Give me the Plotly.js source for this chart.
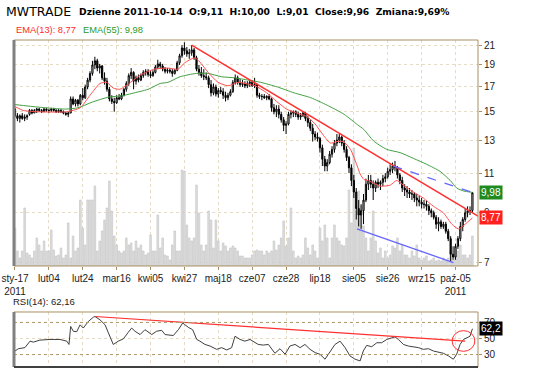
<!DOCTYPE html>
<html><head><meta charset="utf-8">
<script src="https://cdn.plot.ly/plotly-3.0.1.min.js"></script>
<style>html,body{margin:0;padding:0;background:#fff}#chart{width:560px;height:376px}</style>
</head><body><div id="chart"></div>
<script>
// ---- data ----
const tickIdx = [0,14,28,42,56,70,84,98,112,126,140,154,168,182];
const tickText = ['sty-17<br>2011','lut04','lut24','mar16','kwi05','kwi27','maj18','cze07','cze28','lip18','sie05','sie26','wrz15','paź-05<br>2011'];

const openP = [15.2,14.7,14.5,14.7,14.5,14.6,14.8,15.1,14.9,15.1,
15.2,15.1,15.0,15.2,15.1,15.1,15.2,15.1,15.0,15.1,
15.0,14.9,14.8,14.9,16.0,15.6,15.9,15.6,16.3,16.1,
17.0,17.6,18.2,19.0,19.4,18.7,18.9,17.8,17.5,16.8,
16.0,15.8,15.7,16.1,16.0,16.3,16.8,17.3,18.0,18.3,
17.5,17.8,17.6,18.0,18.3,18.4,18.1,18.0,18.3,18.8,
19.1,18.9,18.6,18.4,18.5,18.4,18.2,18.5,19.2,19.9,
20.7,20.4,20.1,20.2,20.5,19.7,18.6,18.3,18.0,17.9,
17.8,17.2,16.5,17.0,16.4,16.7,16.6,16.3,16.1,16.3,
16.6,17.4,17.8,17.4,17.2,17.3,17.1,17.3,17.4,17.1,
17.2,16.3,16.2,16.2,16.1,16.2,16.0,15.3,15.0,15.2,
14.8,14.4,14.0,14.1,14.8,14.9,15.0,14.8,14.6,14.7,
14.9,14.5,14.2,13.8,13.4,13.2,13.1,12.5,11.8,11.4,
11.6,12.1,12.4,12.8,13.0,13.2,12.8,12.4,11.9,11.3,
10.6,10.0,9.2,8.9,9.1,9.6,10.4,10.6,10.4,10.2,
10.5,10.4,10.5,10.7,10.8,11.1,11.2,11.4,11.3,10.9,
10.6,10.2,10.1,10.0,9.9,9.9,9.7,9.6,9.5,9.4,
9.4,9.3,9.1,9.0,8.8,8.5,8.6,8.4,8.5,8.2,
7.9,7.3,7.2,7.6,7.9,8.4,8.7,9.0,9.1,9.11];
const highP = [15.3,14.9,14.8,14.9,14.8,14.8,15.2,15.2,15.2,15.3,
15.3,15.2,15.3,15.3,15.2,15.3,15.3,15.2,15.2,15.2,
15.1,15.0,15.0,16.2,16.2,16.0,16.0,16.4,16.9,17.2,
17.8,18.4,19.4,19.8,19.6,19.1,19.0,18.3,17.8,17.0,
16.3,16.1,16.3,16.4,16.5,16.9,17.5,18.2,18.7,18.4,
18.0,18.1,18.2,18.5,18.6,18.6,18.4,18.5,19.0,19.5,
19.3,19.1,18.8,18.7,18.7,18.6,18.6,19.4,20.1,21.0,
21.3,20.8,20.6,21.0,20.7,19.9,19.0,18.8,18.6,18.3,
18.0,17.6,17.3,17.2,16.9,17.0,16.9,16.6,16.5,16.8,
17.6,18.1,18.0,17.7,17.6,17.5,17.5,17.6,17.6,17.8,
17.3,16.5,16.4,16.4,16.3,16.4,16.1,15.6,15.5,15.5,
15.0,14.6,14.3,15.0,15.1,15.1,15.1,15.0,14.9,15.0,
15.0,14.7,14.4,14.1,13.6,13.5,13.2,12.7,12.0,11.8,
12.3,12.6,13.0,13.4,13.4,13.3,13.0,12.6,12.0,11.5,
10.9,10.2,9.6,9.4,9.9,10.7,10.9,10.9,10.6,10.6,
10.7,10.6,10.9,11.0,11.3,11.5,11.6,11.7,11.4,11.0,
10.8,10.4,10.3,10.2,10.1,10.0,9.9,9.8,9.7,9.6,
9.6,9.4,9.2,9.1,8.9,8.8,8.7,8.6,8.6,8.3,
8.0,7.6,7.7,8.0,8.6,8.8,9.2,9.3,9.3,10.0];
const lowP = [14.6,14.3,14.2,14.4,14.3,14.4,14.7,14.8,14.9,14.9,
15.0,14.9,15.0,15.0,14.9,15.0,15.0,14.9,14.9,14.9,
14.8,14.7,14.6,14.9,15.5,15.4,15.4,15.5,15.9,16.0,
16.8,17.4,18.0,18.6,18.4,18.2,17.6,17.2,16.6,15.8,
15.6,15.0,15.6,15.9,15.9,16.2,16.6,17.1,17.7,16.8,
17.2,17.4,17.5,17.8,18.0,17.9,17.8,17.9,18.2,18.6,
18.6,18.4,18.2,18.2,18.2,17.9,18.1,18.4,19.0,19.7,
20.0,19.8,19.6,19.9,19.5,18.4,18.0,17.8,17.6,17.6,
16.9,16.2,16.3,16.2,16.1,16.4,16.0,15.8,15.9,16.2,
16.5,17.2,17.2,17.0,17.0,16.9,16.9,17.0,17.0,16.9,
16.1,16.0,15.9,16.0,15.9,15.9,15.0,14.8,14.6,14.5,
14.2,13.6,13.4,14.0,14.5,14.6,14.6,14.4,14.4,14.6,
14.3,13.9,13.6,12.9,13.0,12.9,12.2,11.4,11.1,11.1,
11.5,11.9,12.2,12.6,12.8,12.6,12.2,11.7,11.0,10.3,
9.7,8.7,8.4,8.3,8.5,9.5,10.1,10.2,9.6,10.0,
10.2,10.1,10.3,10.5,10.7,10.9,11.0,11.1,10.7,10.4,
10.0,9.8,9.7,9.7,9.6,9.5,9.3,9.3,9.2,9.2,
9.1,8.9,8.8,8.7,8.3,8.2,8.3,8.3,8.1,7.8,
7.05,7.1,7.1,7.5,7.8,8.2,8.6,8.8,8.9,9.01];
const closeP = [14.7,14.5,14.7,14.5,14.6,14.7,15.1,14.9,15.1,15.2,
15.1,15.0,15.2,15.1,15.1,15.2,15.1,15.0,15.1,15.0,
14.9,14.8,14.9,16.0,15.6,15.9,15.6,16.3,16.1,17.0,
17.6,18.2,19.0,19.4,18.7,18.9,17.8,17.5,16.8,16.0,
15.8,15.7,16.1,16.0,16.3,16.8,17.3,18.0,18.3,17.5,
17.8,17.6,18.0,18.3,18.4,18.1,18.0,18.3,18.8,19.1,
18.9,18.6,18.4,18.5,18.4,18.2,18.5,19.2,19.9,20.7,
20.4,20.1,20.2,20.5,19.7,18.6,18.3,18.0,17.9,17.8,
17.2,16.5,17.0,16.4,16.7,16.6,16.3,16.1,16.3,16.6,
17.4,17.8,17.4,17.2,17.3,17.1,17.3,17.4,17.1,17.2,
16.3,16.2,16.2,16.1,16.2,16.0,15.3,15.0,15.2,14.8,
14.4,14.0,14.1,14.8,14.9,15.0,14.8,14.6,14.7,14.9,
14.5,14.2,13.8,13.4,13.2,13.1,12.5,11.8,11.4,11.6,
12.1,12.4,12.8,13.0,13.2,12.8,12.4,11.9,11.3,10.6,
10.0,9.2,8.9,9.1,9.6,10.4,10.6,10.4,10.2,10.5,
10.4,10.5,10.7,10.8,11.1,11.2,11.4,11.3,10.9,10.6,
10.2,10.1,10.0,9.9,9.9,9.7,9.6,9.5,9.4,9.4,
9.3,9.1,9.0,8.8,8.5,8.6,8.4,8.5,8.2,7.9,
7.3,7.2,7.6,7.9,8.4,8.7,9.0,9.1,9.08,9.96];
const volume = [38,15,8,15,58,13,11,8,15,28,21,15,25,15,15,36,16,10,11,18,8,11,43,8,30,15,18,66,38,21,66,66,66,80,15,25,35,46,58,85,55,30,21,15,13,15,28,21,
23,15,25,18,21,15,11,13,31,15,15,51,18,28,11,10,6,21,35,15,15,96,95,41,28,25,28,81,53,21,15,21,55,46,18,46,25,15,23,20,15,18,20,18,15,10,10,
8,8,8,11,15,16,15,15,11,15,13,15,25,16,21,28,45,20,28,58,15,8,10,8,11,28,18,11,21,15,8,38,25,41,28,8,28,41,28,25,21,20,28,76,43,118,55,75,60,40,
28,15,28,55,25,13,18,8,15,8,11,20,18,28,15,21,11,11,8,15,10,21,8,6,8,10,5,6,8,5,6,5,8,5,8,15,6,18,15,21,11,11,8,11,30];

const ema13Idx = [0,3.4,9,21.4,26.9,31,35.1,37.9,40.6,43.4,46.4,49,52,57.7,63.2,67.4,70.1,74.3,76.3,79.8,83.9,88,92.1,96.3,99.2,104,108.1,112.2,116.4,120.5,124,127.5,130.3,133,135.7,138.6,141.4,142.6,144.2,146.7,150.8,155,157.7,160.5,164.6,168.7,172.9,177,180.5,183.2,186,189];
const ema13Val = [15.4,15.1,15.0,15.0,15.3,16.3,17.3,17.4,16.9,16.8,17.2,17.6,18.1,18.6,18.7,18.6,19.2,19.7,19.3,18.3,17.4,17.1,17.4,17.25,17.1,16.5,15.8,15.2,14.9,14.65,14.1,13.3,12.8,12.9,12.9,12.4,11.4,10.95,10.65,10.55,10.3,10.35,10.6,10.35,10.0,9.7,9.3,9.0,8.5,8.3,8.5,8.77];
const ema55Idx = [0,9.8,20.8,26,32,38.7,44,48.3,55,60,63.2,68.2,74.9,79.8,85.3,90.8,96.3,101.5,108.4,115.3,122.2,129,136,141.5,144.2,148.1,153.6,159.1,164.6,170.1,175.6,179.8,182.5,185.3,189];
const ema55Val = [15.55,15.35,15.2,15.3,15.75,16.15,16.25,16.45,16.8,17.3,17.4,17.9,18.2,18.2,17.9,17.8,17.6,17.4,17.0,16.5,16.1,15.5,14.8,14.05,13.7,12.95,12.4,12.2,11.85,11.5,11.1,10.6,10.2,10.05,9.98];

const rsiIdx = [0,1.4,4.1,6.2,7.6,10.3,14.5,18.6,21.4,22.3,23,24.1,25.5,26.9,28.2,30.3,32.4,33,35.1,37.2,38.6,40.6,42.7,44.8,46.8,48.2,49.6,51.7,53.7,56.5,58.5,60.6,62,65.4,67.5,69.3,70.2,71.6,73.4,75.1,76.4,78.5,80.6,83.3,85.4,87.5,89.5,90.9,93,95,97.1,99.2,100.5,102.6,104.7,107.4,109.5,111.6,113.6,115.7,117.8,119.8,121.9,124,126,128.1,130.2,132.2,134.3,136.4,138.4,140.5,142.6,143.9,145.3,147.4,149.5,151.5,153.6,155.7,157,158.4,160.5,162.5,164.6,166.7,168.7,170.8,172.9,175,177,179.1,181.1,182.5,183.9,185.3,186.7,188,189];
const rsiVal = [34.4,37.3,38.6,46.7,45.5,48,48.8,48.8,46.7,42.6,65,59,58.5,67,63,71.2,76.6,77.4,73.3,67.2,57,42.6,46.7,49.6,57.7,63,59,54.9,61,54.9,59,60.2,54.9,53.7,61,69.3,67.2,63.9,61,48.8,46.7,42.6,40.6,36.5,38.6,35.7,38.6,52.8,48.8,46.7,48.8,44.7,42.6,41.8,42.6,31.6,37.3,30.4,40.6,42.6,38.6,42.6,36.5,32.4,30.4,24.2,34.4,42.6,46.7,38.6,28.3,24.2,22.1,34.4,41.4,39.8,44.7,44.7,48.8,50.8,52,48.8,42.6,40.6,40,38.6,36.5,37.3,34.4,33.2,31.6,28.3,24.2,30.4,42.6,48.8,50.8,52.8,62.16];

// hand-drawn analysis lines (endpoints as read)
const trendDownIdx = [73,191.3], trendDownVal = [21.0,8.85];
const trendLowIdx = [141.3,181.1], trendLowVal = [8.3,7.0];
const trendDashIdx = [156.3,188.5], trendDashVal = [11.4,10.0];
const rsiTrendIdx = [33,186], rsiTrendVal = [77.4,46.7];

const lastEma13 = 8.77, lastEma55 = 9.98, lastRsi = 62.16;
const priceTicks = [7,9,11,13,15,17,19,21];
const rsiTicks = [30,50,70];

const idx = closeP.map((_, i) => i);
const fmt = (v, d) => v.toFixed(d).replace('.', ',');

const FR = '#a89064', GRID = '#e6dcc6';
const FONT = 'Liberation Sans, Arial, sans-serif';
const VFONT = 'DejaVu Sans, Verdana, sans-serif';
const mainBot = 0.3089, rsiTop = 0.1682;

const traces = [
  {type:'bar', x:idx, y:volume, xaxis:'x', yaxis:'y', marker:{color:'#dedede', line:{color:'#c2c2c2', width:0.6}}, hoverinfo:'skip'},
  {type:'candlestick', x:idx, open:openP, high:highP, low:lowP, close:closeP, xaxis:'x', yaxis:'y3',
   increasing:{line:{color:'#000', width:1}, fillcolor:'#fff'}, decreasing:{line:{color:'#000', width:1}, fillcolor:'#000'}, whiskerwidth:0},
  {type:'scatter', mode:'lines', x:ema55Idx, y:ema55Val, xaxis:'x', yaxis:'y3', line:{color:'#44a044', width:1, shape:'spline', smoothing:0.6}},
  {type:'scatter', mode:'lines', x:ema13Idx, y:ema13Val, xaxis:'x', yaxis:'y3', line:{color:'#ff5050', width:1, shape:'spline', smoothing:0.6}},
  {type:'scatter', mode:'lines', x:trendDownIdx, y:trendDownVal, xaxis:'x', yaxis:'y3', line:{color:'#ff3030', width:1.5}},
  {type:'scatter', mode:'lines', x:trendLowIdx, y:trendLowVal, xaxis:'x', yaxis:'y3', line:{color:'#6666ff', width:1.3}},
  {type:'scatter', mode:'lines', x:trendDashIdx, y:trendDashVal, xaxis:'x', yaxis:'y3', line:{color:'#6666ff', width:1.3, dash:'dash'}},
  {type:'scatter', mode:'lines', x:rsiIdx, y:rsiVal, xaxis:'x2', yaxis:'y2', line:{color:'#404040', width:1}},
  {type:'scatter', mode:'lines', x:rsiTrendIdx, y:rsiTrendVal, xaxis:'x2', yaxis:'y2', line:{color:'#ff3030', width:1.2}}
];

const xr = [-0.41, 191.3];
const layout = {
  width:560, height:376, showlegend:false, bargap:0.3,
  paper_bgcolor:'#fff', plot_bgcolor:'#fff',
  margin:{l:14, r:82, t:40, b:9},
  font:{family:FONT, size:10, color:'#222'},
  xaxis:{domain:[0,1], anchor:'y', range:xr, tickvals:tickIdx, ticktext:tickText, showgrid:true, gridcolor:GRID, griddash:'dot',
         ticks:'outside', ticklen:3, tickcolor:FR, tickfont:{size:10, color:'#222'}, zeroline:false, rangeslider:{visible:false}, showline:false},
  xaxis2:{domain:[0,1], anchor:'y2', matches:'x', range:xr, tickvals:tickIdx, showticklabels:false, showgrid:true, gridcolor:GRID, griddash:'dot', ticks:'', zeroline:false, rangeslider:{visible:false}},
  yaxis:{domain:[mainBot,1], anchor:'x', range:[0,226], showgrid:false, showticklabels:false, zeroline:false, ticks:''},
  yaxis3:{overlaying:'y', anchor:'x', side:'right', type:'log', range:[Math.log10(6.88), Math.log10(21.55)], tickvals:priceTicks,
          showgrid:true, gridcolor:GRID, griddash:'dot', ticks:'outside', ticklen:3, tickcolor:FR, tickfont:{size:10, color:'#222'}, zeroline:false},
  yaxis2:{domain:[0,rsiTop], anchor:'x2', side:'right', range:[14.5,83], tickvals:rsiTicks, showgrid:true, gridcolor:GRID, griddash:'dot',
          ticks:'outside', ticklen:3, tickcolor:FR, tickfont:{size:10, color:'#222'}, zeroline:false},
  shapes:[
    {type:'line', xref:'paper', x0:0, x1:1, yref:'y2', y0:70, y1:70, line:{color:'#b09a6a', width:1, dash:'dot'}},
    {type:'line', xref:'paper', x0:0, x1:1, yref:'y2', y0:30, y1:30, line:{color:'#b09a6a', width:1, dash:'dot'}},
    {type:'rect', xref:'paper', x0:0, x1:1, yref:'paper', y0:mainBot, y1:1, line:{color:FR, width:1}},
    {type:'rect', xref:'paper', x0:0, x1:1, yref:'paper', y0:0, y1:rsiTop, line:{color:FR, width:1}},
    {type:'line', xref:'paper', x0:0, x1:0, yref:'paper', y0:mainBot, y1:1, line:{color:'#808080', width:3}},
    {type:'line', xref:'paper', x0:0, x1:0, yref:'paper', y0:0, y1:rsiTop, line:{color:'#808080', width:3}},
    {type:'line', xref:'paper', x0:0, x1:1, yref:'paper', y0:0, y1:0, line:{color:'#404040', width:2}},
    {type:'circle', xref:'x2', yref:'y2', x0:180.6, x1:190, y0:34, y1:59.8, line:{color:'#ff3030', width:1}}
  ],
  annotations:[
    {xref:'paper', yref:'paper', x:0, y:1, xanchor:'left', yanchor:'middle', xshift:-10, yshift:28.5, showarrow:false,
     text:'MWTRADE', font:{family:VFONT, size:12.5, color:'#000'}},
    {xref:'paper', yref:'paper', x:0, y:1, xanchor:'left', yanchor:'middle', xshift:63, yshift:28.5, showarrow:false,
     text:'<b>Dzienne 2011-10-14  O:9,11  H:10,00  L:9,01  Close:9,96  Zmiana:9,69%</b>', font:{family:VFONT, size:9.2, color:'#000'}},
    {xref:'paper', yref:'paper', x:0, y:1, xanchor:'left', yanchor:'middle', xshift:0, yshift:10, showarrow:false,
     text:'EMA(13): ' + fmt(lastEma13,2), font:{family:FONT, size:9.3, color:'#ff2a2a'}},
    {xref:'paper', yref:'paper', x:0, y:1, xanchor:'left', yanchor:'middle', xshift:67, yshift:10, showarrow:false,
     text:'EMA(55): ' + fmt(lastEma55,2), font:{family:FONT, size:9.3, color:'#2a9a2a'}},
    {xref:'paper', yref:'paper', x:0, y:rsiTop, xanchor:'left', yanchor:'middle', xshift:-3, yshift:10.5, showarrow:false,
     text:'RSI(14): ' + fmt(lastRsi,2), font:{family:FONT, size:9.5, color:'#222'}},
    {xref:'paper', yref:'y3', x:1, y:Math.log10(lastEma55), xanchor:'left', yanchor:'middle', xshift:1, showarrow:false,
     text:fmt(lastEma55,2), bgcolor:'#1f8a1f', borderpad:1, font:{family:FONT, size:10, color:'#fff'}},
    {xref:'paper', yref:'y3', x:1, y:Math.log10(lastEma13), xanchor:'left', yanchor:'middle', xshift:1, showarrow:false,
     text:fmt(lastEma13,2), bgcolor:'#ff2020', borderpad:1, font:{family:FONT, size:10, color:'#fff'}},
    {xref:'paper', yref:'y2', x:1, y:lastRsi, xanchor:'left', yanchor:'middle', xshift:1, showarrow:false,
     text:fmt(lastRsi,1), bgcolor:'#000', borderpad:1, font:{family:FONT, size:10, color:'#fff'}}
  ]
};
Plotly.newPlot('chart', traces, layout, {staticPlot:true, displayModeBar:false});
</script></body></html>
